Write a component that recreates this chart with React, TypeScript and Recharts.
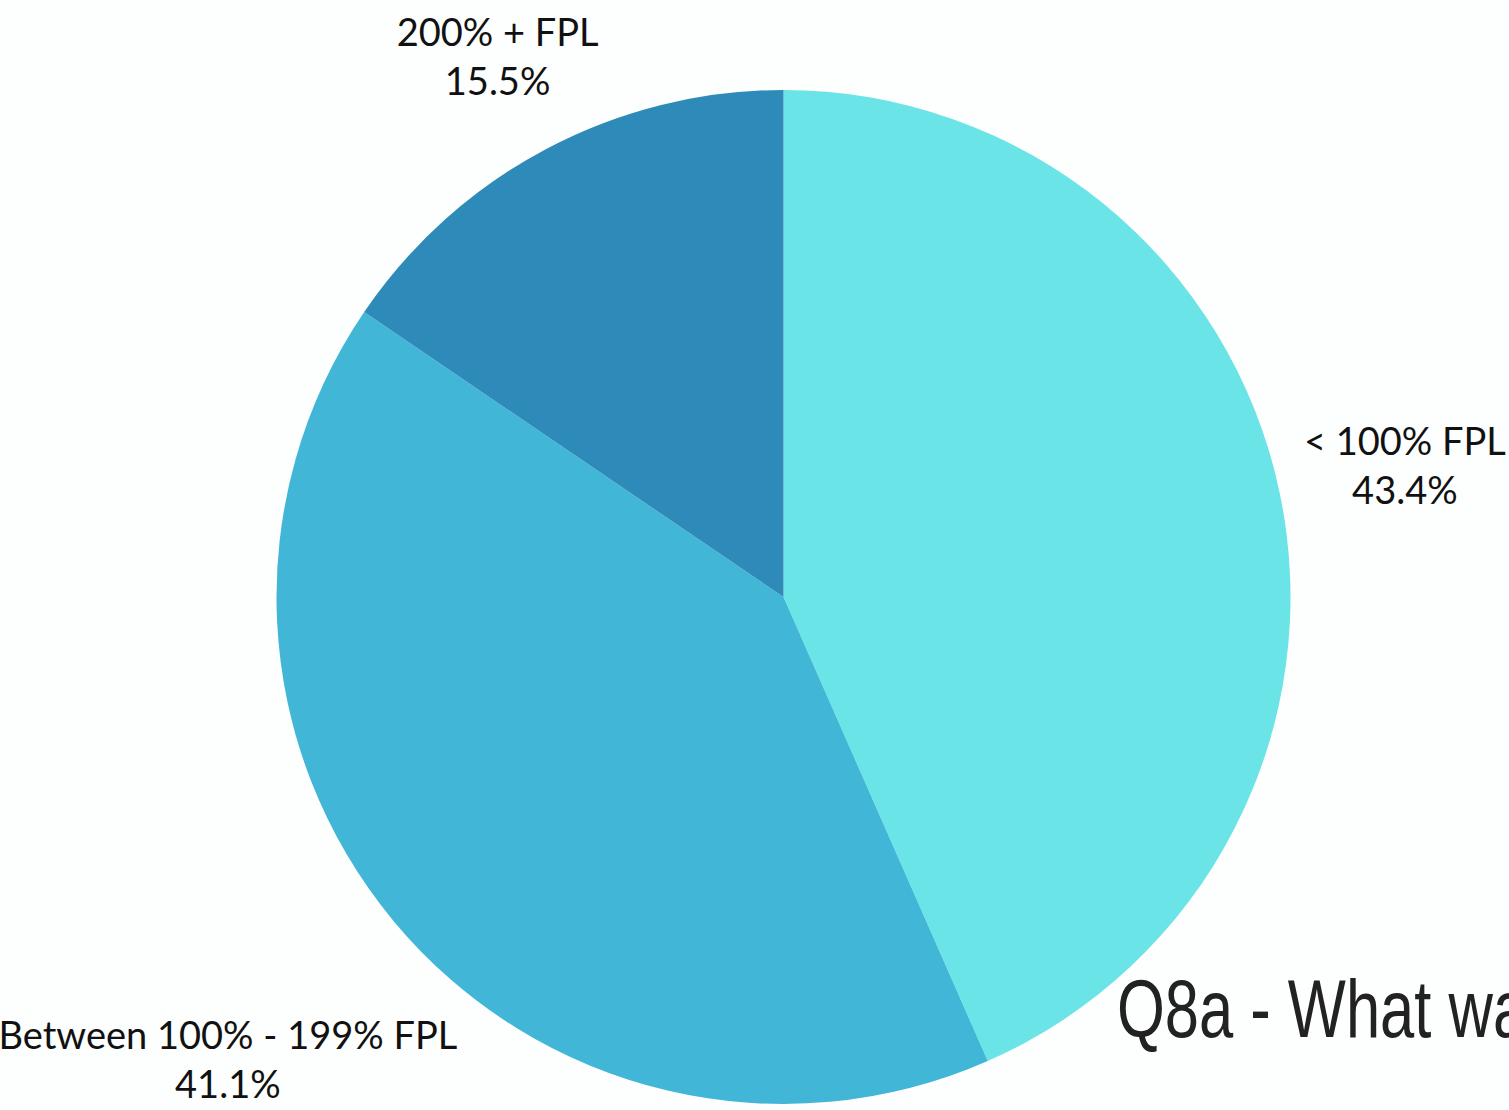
import { PieChart, Pie, Cell } from 'recharts'

const categories = ['< 100% FPL', 'Between 100% - 199% FPL', '200% + FPL']
const shares = [43.4, 41.1, 15.5]
const colors = ['#6be4e7', '#42b6d6', '#2e8bb9']

// how far out each label sits from the pie centre
const labelRadius = [635, 723, 611]

const data = categories.map((name, i) => ({ name, value: shares[i] }))

const RAD = Math.PI / 180

function SliceLabel(props: any) {
  const { cx, cy, midAngle, index, name, value } = props
  const r = labelRadius[index]
  const x = cx + r * Math.cos(-midAngle * RAD)
  const y = cy + r * Math.sin(-midAngle * RAD)
  return (
    <text
      x={x}
      y={y}
      textAnchor="middle"
      fill="#111"
      style={{ fontFamily: 'Lato, "Open Sans", sans-serif', fontSize: 38 }}
    >
      <tspan x={x} y={y - 11}>{name}</tspan>
      <tspan x={x} y={y + 38}>{value.toFixed(1)}%</tspan>
    </text>
  )
}

export default function App() {
  return (
    <div
      style={{
        position: 'absolute',
        left: 0,
        top: 0,
        width: 1509,
        height: 1110,
        overflow: 'hidden',
        background: '#fdfefe',
      }}
    >
      <PieChart width={1509} height={1110} margin={{ top: 0, right: 0, bottom: 0, left: 0 }}>
        <Pie
          data={data}
          dataKey="value"
          nameKey="name"
          cx={783.5}
          cy={597}
          outerRadius={507}
          startAngle={90}
          endAngle={-270}
          stroke="none"
          label={SliceLabel}
          labelLine={false}
          isAnimationActive={false}
        >
          {data.map((d, i) => (
            <Cell key={d.name} fill={colors[i]} />
          ))}
        </Pie>
      </PieChart>
      <svg
        width={1509}
        height={1110}
        style={{ position: 'absolute', left: 0, top: 0, pointerEvents: 'none' }}
      >
        <g transform="translate(1117,1037) scale(0.75,1)">
          <text
            x={0}
            y={0}
            fill="#222"
            style={{ fontFamily: '"Liberation Sans", Arial, sans-serif', fontSize: 82 }}
          >
            Q8a - What was
          </text>
        </g>
      </svg>
    </div>
  )
}
